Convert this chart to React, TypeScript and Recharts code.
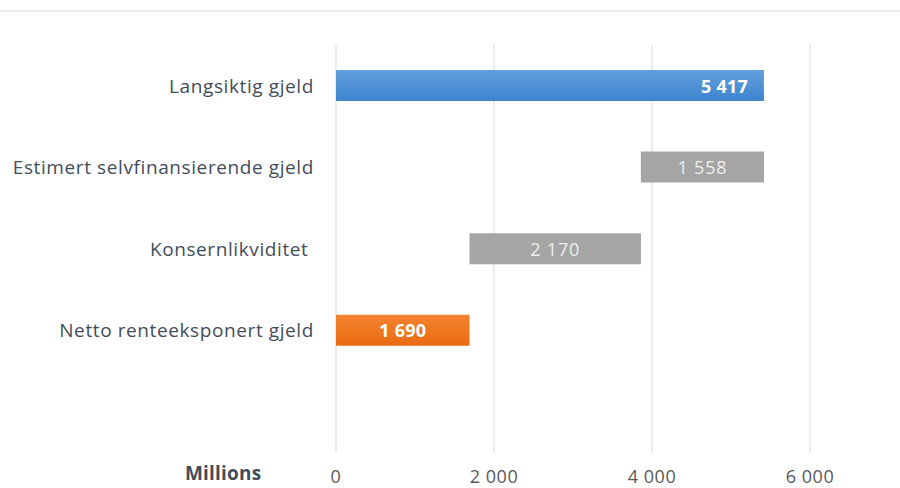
import { BarChart, Bar, XAxis, YAxis, CartesianGrid, Cell, LabelList } from "recharts";

const categories = [
  "Langsiktig gjeld",
  "Estimert selvfinansierende gjeld",
  "Konsernlikviditet\u00a0",
  "Netto renteeksponert gjeld",
  "",
];
const amounts = [5417, 1558, 2170, 1690, null];
const offsets = [0, 3859, 1690, 0, null];
const fills = ["url(#blueGrad)", "#a5a5a5", "#a5a5a5", "url(#orangeGrad)", "#a5a5a5"];
const labelColors = ["#ffffff", "#eeeeee", "#eeeeee", "#ffffff", "#ffffff"];
const labelWeights = ["bold", "normal", "normal", "bold", "normal"];
const xTicks = [0, 2000, 4000, 6000];

const data = categories.map((name, i) => ({
  name,
  offset: offsets[i],
  amount: amounts[i],
}));

const fmt = (v: number) => String(v).replace(/\B(?=(\d{3})+(?!\d))/g, " ");

const FONT = "'Open Sans', Lato, sans-serif";

const ValueLabel = (props: any) => {
  const { x, y, width, height, value, index } = props;
  if (value == null) return null;
  const right = index === 0;
  return (
    <text
      x={right ? x + width - 16 : x + width / 2}
      y={y + height / 2}
      textAnchor={right ? "end" : "middle"}
      dominantBaseline="central"
      fill={labelColors[index]}
      fontWeight={labelWeights[index]}
      fontSize={18}
      fontFamily={FONT}
      style={{ letterSpacing: labelWeights[index] === "bold" ? 0.2 : 0.8 }}
    >
      {fmt(value)}
    </text>
  );
};

export default function App() {
  return (
    <div
      style={{
        position: "fixed",
        left: 0,
        top: 0,
        width: 900,
        height: 488,
        background: "#ffffff",
        fontFamily: FONT,
      }}
    >
      <div style={{ position: "absolute", left: 0, top: 10, width: 900, height: 2, background: "#ebebeb" }} />
      <BarChart
        width={900}
        height={488}
        data={data}
        layout="vertical"
        margin={{ top: 45, right: 90, bottom: 0, left: 0 }}
        barSize={31}
      >
        <defs>
          <linearGradient id="blueGrad" x1="0" y1="0" x2="0" y2="1">
            <stop offset="0%" stopColor="#62a0dc" />
            <stop offset="100%" stopColor="#3d84cd" />
          </linearGradient>
          <linearGradient id="orangeGrad" x1="0" y1="0" x2="0" y2="1">
            <stop offset="0%" stopColor="#f3842f" />
            <stop offset="100%" stopColor="#e96a12" />
          </linearGradient>
        </defs>
        <CartesianGrid horizontal={false} stroke="#d9d9d9" />
        <XAxis
          type="number"
          domain={[0, 6000]}
          ticks={xTicks}
          tickFormatter={fmt}
          axisLine={false}
          tickLine={false}
          tickSize={0}
          tickMargin={17}
          height={35}
          tick={{ fill: "#595959", fontSize: 18, fontFamily: FONT, style: { letterSpacing: 0.5 } }}
        />
        <YAxis
          type="category"
          dataKey="name"
          width={336}
          axisLine={false}
          tickLine={false}
          tickSize={0}
          tickMargin={22}
          interval={0}
          tick={{ fill: "#434d5a", fontSize: 19, fontFamily: FONT, style: { letterSpacing: 0.6 } }}
        />
        <Bar dataKey="offset" stackId="w" fill="transparent" isAnimationActive={false} />
        <Bar dataKey="amount" stackId="w" isAnimationActive={false}>
          {data.map((_, i) => (
            <Cell key={i} fill={fills[i]} />
          ))}
          <LabelList dataKey="amount" content={ValueLabel} />
        </Bar>
      </BarChart>
      <div
        style={{
          position: "absolute",
          left: 185,
          top: 460,
          fontSize: 19,
          fontWeight: "bold",
          color: "#434d5a",
          letterSpacing: 0.2,
        }}
      >
        Millions
      </div>
    </div>
  );
}
